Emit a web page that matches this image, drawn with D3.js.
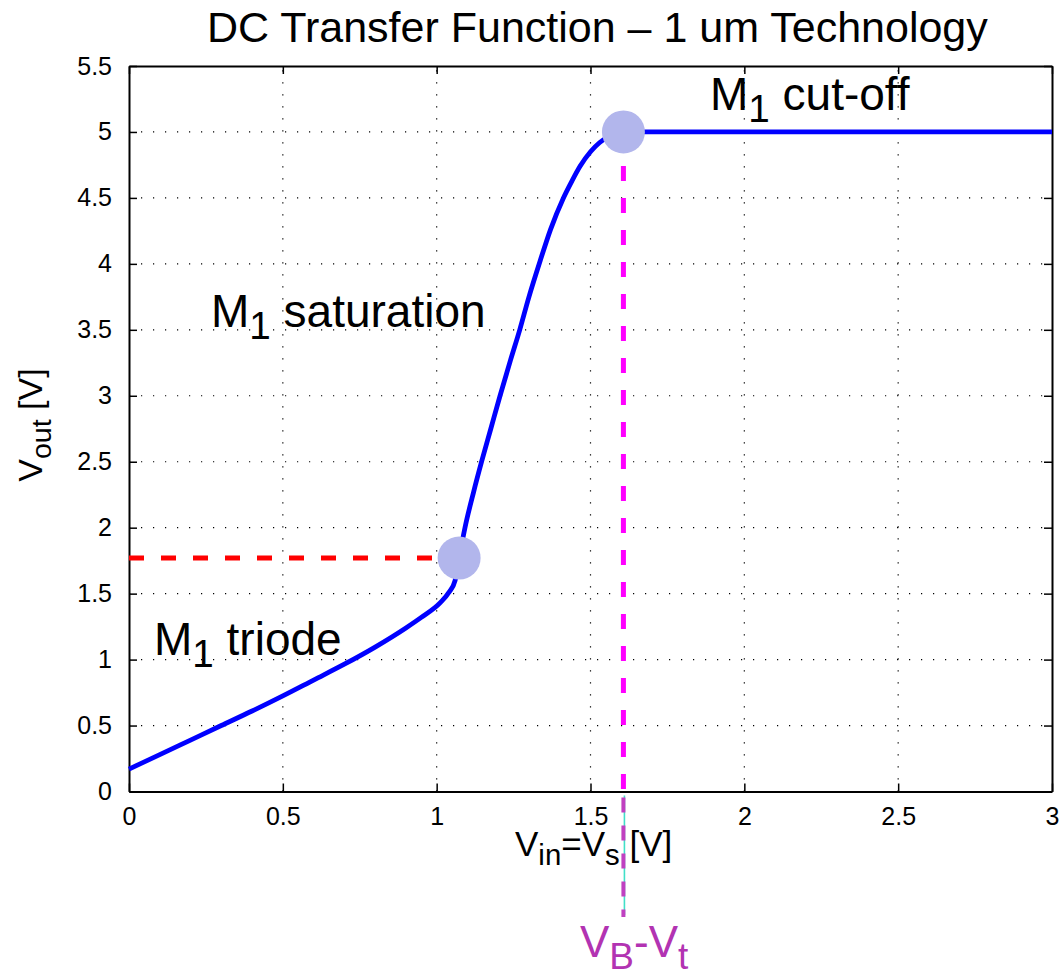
<!DOCTYPE html>
<html>
<head>
<meta charset="utf-8">
<script src="https://cdn.jsdelivr.net/npm/d3@7"></script>
<style>
  body { margin: 0; background: #fff; }
  text { font-family: "Liberation Sans", Arial, Helvetica, sans-serif; }
</style>
</head>
<body>
<svg id="chart" width="1059" height="975"></svg>
<script>
// values
const vin = [0, 0.1, 0.2, 0.3, 0.4, 0.5, 0.6, 0.7, 0.8, 0.9, 0.95, 1.011, 1.04, 1.06, 1.073,
  1.092, 1.12, 1.146, 1.176, 1.206, 1.24, 1.27, 1.30, 1.336, 1.37, 1.412, 1.44, 1.466,
  1.50, 1.53, 1.555, 1.58, 1.607, 2.0, 2.5, 3.0];
const vout = [0.17, 0.28, 0.39, 0.5, 0.61, 0.725, 0.845, 0.965, 1.095, 1.24, 1.32, 1.43, 1.51, 1.6, 1.77,
  2.0, 2.27, 2.5, 2.75, 3.0, 3.27, 3.5, 3.75, 4.02, 4.26, 4.5, 4.63, 4.74,
  4.85, 4.92, 4.96, 4.99, 5.0, 5.0, 5.0, 5.0];
const triodeEdge = [1.073, 1.77];   // M1 triode / saturation boundary
const cutoffEdge = [1.607, 5.0];    // VB - Vt
const xTicks = [0, 0.5, 1, 1.5, 2, 2.5, 3];
const yTicks = [0, 0.5, 1, 1.5, 2, 2.5, 3, 3.5, 4, 4.5, 5, 5.5];

const svg = d3.select("#chart");
const plotLeft = 129, plotRight = 1052, plotTop = 66, plotBottom = 791.5;

const x = d3.scaleLinear().domain([0, 3]).range([plotLeft, plotRight]);
const y = d3.scaleLinear().domain([0, 5.5]).range([plotBottom, plotTop]);

// dotted grid
const grid = svg.append("g").attr("stroke", "#000").attr("stroke-width", 1.2)
  .attr("stroke-dasharray", "1.2,10.8");
grid.selectAll(".gx").data(xTicks.slice(1, -1)).enter().append("line")
  .attr("x1", d => x(d)).attr("x2", d => x(d)).attr("y1", plotBottom).attr("y2", plotTop);
grid.selectAll(".gy").data(yTicks.slice(1, -1)).enter().append("line")
  .attr("y1", d => y(d)).attr("y2", d => y(d)).attr("x1", plotLeft).attr("x2", plotRight);

// axes (ticks pointing inward, box on)
const tickLen = 8;
svg.append("g").attr("transform", `translate(0,${plotBottom})`)
  .call(d3.axisBottom(x).tickValues(xTicks).tickSizeInner(-tickLen).tickSizeOuter(0).tickPadding(16).tickFormat(d3.format("~g")))
  .call(g => g.selectAll("text").attr("font-size", 25).attr("dy", "0.71em"));
svg.append("g").attr("transform", `translate(0,${plotTop})`)
  .call(d3.axisTop(x).tickValues(xTicks).tickSizeInner(-tickLen).tickSizeOuter(0).tickFormat(""));
svg.append("g").attr("transform", `translate(${plotLeft},0)`)
  .call(d3.axisLeft(y).tickValues(yTicks).tickSizeInner(-tickLen).tickSizeOuter(0).tickPadding(17).tickFormat(d3.format("~g")))
  .call(g => g.selectAll("text").attr("font-size", 25));
svg.append("g").attr("transform", `translate(${plotRight},0)`)
  .call(d3.axisRight(y).tickValues(yTicks).tickSizeInner(-tickLen).tickSizeOuter(0).tickFormat(""));
svg.selectAll(".domain").attr("stroke", "#000").attr("stroke-width", 2);
svg.selectAll(".tick line").attr("stroke", "#000").attr("stroke-width", 1.5);
svg.selectAll(".tick text").attr("fill", "#000").attr("font-family", "Liberation Sans, Arial, sans-serif");

// VB - Vt marker below the axis
svg.append("line")
  .attr("x1", x(cutoffEdge[0]) + 1).attr("x2", x(cutoffEdge[0]) + 1)
  .attr("y1", plotBottom + 4).attr("y2", 915)
  .attr("stroke", "#40e0c8").attr("stroke-width", 1.6);
svg.append("line")
  .attr("x1", x(cutoffEdge[0])).attr("x2", x(cutoffEdge[0]))
  .attr("y1", plotBottom + 6).attr("y2", 917)
  .attr("stroke", "#c040c0").attr("stroke-width", 4)
  .attr("stroke-dasharray", "15,13");

// dashed guides
svg.append("line")
  .attr("x1", x(0)).attr("x2", x(triodeEdge[0]))
  .attr("y1", y(triodeEdge[1])).attr("y2", y(triodeEdge[1]))
  .attr("stroke", "#ff0000").attr("stroke-width", 5).attr("stroke-dasharray", "15,17");
svg.append("line")
  .attr("x1", x(cutoffEdge[0])).attr("x2", x(cutoffEdge[0]))
  .attr("y1", y(cutoffEdge[1])).attr("y2", y(0))
  .attr("stroke", "#ff00ff").attr("stroke-width", 5).attr("stroke-dasharray", "15,17")
  .attr("stroke-dashoffset", -2);

// transfer curve
const line = d3.line().x((d, i) => x(vin[i])).y(d => y(d)).curve(d3.curveMonotoneX);
svg.append("path").datum(vout)
  .attr("d", line).attr("fill", "none")
  .attr("stroke", "#0000ff").attr("stroke-width", 4.8).attr("stroke-linejoin", "round");

// boundary markers
svg.selectAll(".pt").data([triodeEdge, cutoffEdge]).enter().append("circle")
  .attr("cx", d => x(d[0])).attr("cy", d => y(d[1])).attr("r", 21.5)
  .attr("fill", "#b2b6ec");

// text with subscripts
function subText(g, px, py, size, parts, color) {
  const t = g.append("text").attr("x", px).attr("y", py).attr("font-size", size)
    .style("fill", color || "#000");
  parts.forEach(p => {
    if (p.sub) {
      t.append("tspan").attr("font-size", size * 0.84).attr("dy", size * 0.27).text(p.sub);
    } else {
      t.append("tspan").attr("dy", p.after ? -size * 0.27 : 0).text(p.txt);
    }
  });
  return t;
}

svg.append("text").attr("x", 207).attr("y", 42).attr("font-size", 43).style("fill", "#000")
  .text("DC Transfer Function \u2013 1 um Technology");

subText(svg, 710, 110, 46, [{txt: "M"}, {sub: "1"}, {txt: " cut-off", after: true}]);
subText(svg, 211, 327, 46, [{txt: "M"}, {sub: "1"}, {txt: " saturation", after: true}]);
subText(svg, 154, 655, 46, [{txt: "M"}, {sub: "1"}, {txt: " triode", after: true}]);

subText(svg, 515, 856, 35, [{txt: "V"}, {sub: "in"}, {txt: "=V", after: true}, {sub: "s"}, {txt: " [V]", after: true}]);
subText(svg, 580, 957, 44, [{txt: "V"}, {sub: "B"}, {txt: "-V", after: true}, {sub: "t"}], "#b233b2");

const yl = svg.append("g").attr("transform", "translate(42,425) rotate(-90)");
subText(yl, 0, 0, 34, [{txt: "V"}, {sub: "out"}, {txt: " [V]", after: true}]).attr("text-anchor", "middle");
</script>
</body>
</html>
